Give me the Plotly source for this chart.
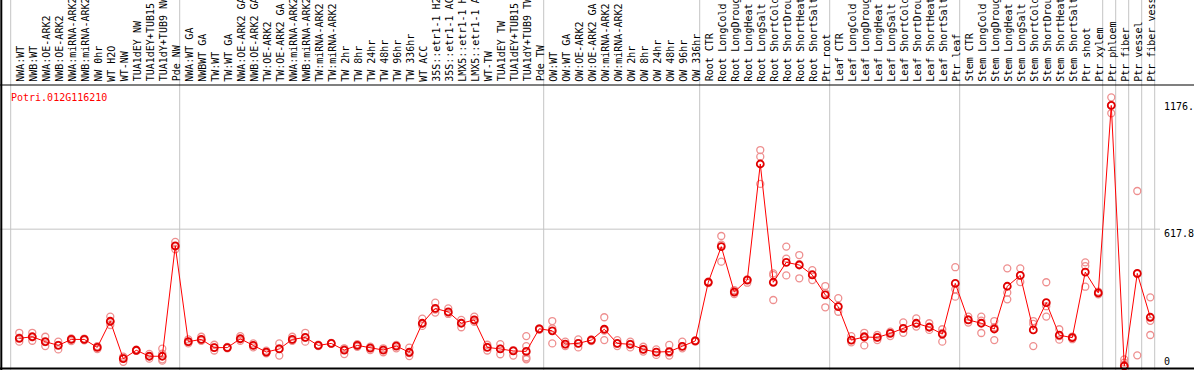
import plotly.graph_objects as go

categories = [
    "NWA:WT", "NWB:WT", "NWA:OE-ARK2", "NWB:OE-ARK2", "NWA:miRNA-ARK2", "NWB:miRNA-ARK2",
    "NW 0hr", "WT H2O", "WT-NW", "TUA1dEY NW", "TUA1dEY+TUB15 NW", "TUA1dY+TUB9 NW", "Pde NW",
    "NWA:WT GA", "NWBWT GA", "TW:WT", "TW:WT GA", "NWA:OE-ARK2 GA", "NWB:OE-ARK2 GA",
    "TW:OE-ARK2", "TW:OE-ARK2 GA", "NWA:miRNA-ARK2", "NWB:miRNA-ARK2", "TW:miRNA-ARK2",
    "TW:miRNA-ARK2", "TW 2hr", "TW 8hr", "TW 24hr", "TW 48hr", "TW 96hr", "TW 336hr", "WT ACC",
    "35S::etr1-1 H2O", "35S::etr1-1 ACC", "LMX5::etr1-1 H2O", "LMX5::etr1-1 ACC", "WT-TW",
    "TUA1dEY TW", "TUA1dEY+TUB15 TW", "TUA1dY+TUB9 TW", "Pde TW",
    "OW:WT", "OW:WT GA", "OW:OE-ARK2", "OW:OE-ARK2 GA", "OW:miRNA-ARK2", "OW:miRNA-ARK2",
    "OW 2hr", "OW 8hr", "OW 24hr", "OW 48hr", "OW 96hr", "OW 336hr",
    "Root CTR", "Root LongCold", "Root LongDrought", "Root LongHeat", "Root LongSalt",
    "Root ShortCold", "Root ShortDrought", "Root ShortHeat", "Root ShortSalt", "Ptr root",
    "Leaf CTR", "Leaf LongCold", "Leaf LongDrought", "Leaf LongHeat", "Leaf LongSalt",
    "Leaf ShortCold", "Leaf ShortDrought", "Leaf ShortHeat", "Leaf ShortSalt", "Ptr leaf",
    "Stem CTR", "Stem LongCold", "Stem LongDrought", "Stem LongHeat", "Stem LongSalt",
    "Stem ShortCold", "Stem ShortDrought", "Stem ShortHeat", "Stem ShortSalt", "Ptr shoot",
    "Ptr xylem", "Ptr phloem", "Ptr fiber", "Ptr vessel", "Ptr fiber vessel",
]

group_sizes = [13, 28, 12, 10, 10, 11, 1, 1, 1, 1]

means = [
    125, 132, 110, 93, 120, 120, 84, 202, 33, 71, 44, 44, 542,
    110, 120, 83, 83, 123, 93, 63, 77, 120, 129, 93, 102, 72, 93, 81, 72, 90, 62, 193,
    260, 244, 193, 208, 84, 77, 68, 66, 168,
    159, 99, 102, 117, 166, 102, 98, 75, 63, 65, 89, 113,
    378, 539, 334, 388, 912, 378, 468, 456, 411, 321,
    268, 117, 131, 129, 147, 170, 193, 175, 144, 373,
    208, 193, 167, 360, 409, 163, 286, 139, 128, 424, 330,
    1176.4, 0, 418, 220,
]

replicates = [
    [150, 110, 128], [150, 114, 130], [132, 90, 108], [110, 75, 95], [120, 112, 125],
    [124, 116, 120], [90, 76, 86], [223, 185, 200], [42, 19, 38], [71, 68, 74],
    [55, 33, 44], [78, 56, 24, 30], [560, 527, 540],
    [120, 102, 108], [132, 114, 116], [96, 70, 84], [83, 80, 86], [135, 114, 122],
    [102, 84, 93], [69, 57, 63], [102, 47, 80], [132, 114, 116], [150, 110, 128],
    [96, 90, 93], [104, 100, 102], [80, 54, 78], [99, 87, 93], [87, 72, 84], [80, 62, 74],
    [95, 80, 92], [83, 45, 58], [214, 181, 190], [286, 241, 255], [260, 235, 240],
    [208, 175, 195], [223, 199, 204], [96, 70, 86], [99, 53, 78], [68, 47, 72],
    [135, 90, 40, 34, 30], [170, 163, 168],
    [203, 102, 170], [110, 90, 98], [120, 84, 102], [120, 112, 118], [220, 117, 160],
    [117, 90, 100], [110, 84, 100], [87, 65, 75], [75, 50, 63], [95, 47, 60], [110, 80, 90],
    [113, 110, 116],
    [381, 374, 378], [587, 471, 548], [343, 325, 334], [391, 376, 390], [975, 945, 822],
    [418, 298, 410], [539, 409, 485], [501, 396, 460], [433, 388, 415], [361, 265, 330],
    [306, 245, 270], [135, 107, 117], [150, 93, 135], [140, 117, 129], [155, 135, 150],
    [197, 150, 168], [215, 178, 190], [193, 163, 178], [166, 110, 150], [446, 346, 313],
    [223, 196, 210], [223, 149, 205], [203, 117, 175], [441, 331, 301], [441, 379, 410],
    [203, 90, 190], [378, 223, 270], [166, 119, 135], [133, 121, 128], [468, 451, 358],
    [336, 324, 330],
    [1213, 1141, 1176], [30, 15, 5], [790, 48, 415], [310, 204, 140],
]

gene_label = "Potri.012G116210"
tick_values = [1176.4, 617.8, 0]
tick_texts = ["1176.4", "617.8", "0"]

W, H = 1194, 370
CAT_W = 13.0      # px per category
X0_PX = 10.7      # px of first category boundary
PT_OFF = 0.66     # point offset inside category
ZERO_PX = 366.0
PX_PER_UNIT = 0.2215
HEADER_PX = 85

xs = [i + PT_OFF for i in range(len(categories))]
rx, ry = [], []
for x, reps in zip(xs, replicates):
    for r in reps:
        rx.append(x)
        ry.append(r)

x_range = [(0 - X0_PX) / CAT_W, (W - X0_PX) / CAT_W]
y_range = [(ZERO_PX - H) / PX_PER_UNIT, ZERO_PX / PX_PER_UNIT]

FONT = "DejaVu Sans Mono"

fig = go.Figure()
fig.add_trace(go.Scatter(
    x=rx, y=ry, mode="markers",
    marker=dict(symbol="circle-open", size=7, color="#ee8f8f", line=dict(width=1.3)),
    hoverinfo="skip", showlegend=False))
fig.add_trace(go.Scatter(
    x=xs, y=means, mode="lines+markers",
    line=dict(color="red", width=1),
    marker=dict(symbol="circle-open", size=7, color="#e00000", line=dict(width=1.8)),
    showlegend=False))

shapes = []
b = 0
bounds = [0]
for g in group_sizes:
    b += g
    bounds.append(b)
for bd in bounds:
    shapes.append(dict(type="line", xref="x", yref="paper", x0=bd, x1=bd, y0=0, y1=1,
                       line=dict(color="#c4c4c4", width=1), layer="below"))
shapes.append(dict(type="line", xref="paper", yref="y", x0=0, x1=1160 / W,
                   y0=tick_values[1], y1=tick_values[1],
                   line=dict(color="#c4c4c4", width=1), layer="below"))
top_y = 1 - HEADER_PX / H
shapes.append(dict(type="line", xref="paper", yref="paper", x0=0, x1=1, y0=top_y, y1=top_y,
                   line=dict(color="black", width=1.2)))
shapes.append(dict(type="line", xref="paper", yref="paper", x0=0, x1=1,
                   y0=1 - 368.5 / H, y1=1 - 368.5 / H, line=dict(color="black", width=2)))
shapes.append(dict(type="line", xref="paper", yref="paper", x0=1.3 / W, x1=1.3 / W,
                   y0=0, y1=1, line=dict(color="black", width=2)))

annotations = []
for x, c in zip(xs, categories):
    annotations.append(dict(x=x, xref="x", y=top_y, yref="paper", yshift=1.5, xshift=1,
                            text=c, textangle=-90, showarrow=False,
                            xanchor="center", yanchor="bottom",
                            font=dict(family=FONT, size=10, color="black")))
annotations.append(dict(x=8.5 / W, xref="paper", y=1 - 97 / H, yref="paper", text=gene_label,
                        showarrow=False, xanchor="left", yanchor="middle",
                        font=dict(family=FONT, size=10, color="red")))
shifts = [-1.2, -4.4, 4.3]
for v, t, s in zip(tick_values, tick_texts, shifts):
    annotations.append(dict(x=1162 / W, xref="paper", y=v, yref="y", yshift=s, text=t,
                            showarrow=False, xanchor="left", yanchor="middle",
                            font=dict(family=FONT, size=10, color="black")))

fig.update_layout(
    width=W, height=H, margin=dict(l=0, r=0, t=0, b=0),
    paper_bgcolor="white", plot_bgcolor="white",
    xaxis=dict(range=x_range, visible=False, showgrid=False, zeroline=False),
    yaxis=dict(range=y_range, visible=False, showgrid=False, zeroline=False),
    shapes=shapes, annotations=annotations,
)

fig.write_html(
    "out.html",
    config={"displayModeBar": False},
    post_script="document.body.style.margin='0';document.body.style.overflow='hidden';",
)
